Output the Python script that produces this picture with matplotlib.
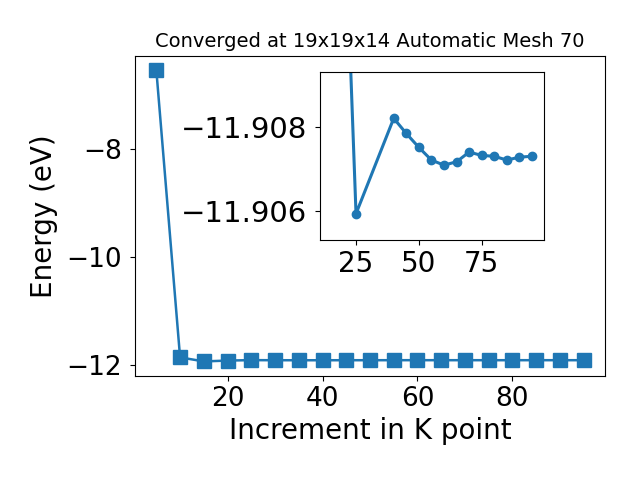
import numpy as np
import matplotlib
matplotlib.use("Agg")
import matplotlib.pyplot as plt

# data
kpoints = [5, 10, 15, 20, 25, 30, 35, 40, 45, 50, 55, 60, 65, 70, 75, 80, 85, 90, 95]
energy = [-6.54, -11.855, -11.93, -11.914, -11.90594, -11.9080, -11.9081, -11.90820,
          -11.90784, -11.90751, -11.90721, -11.90709, -11.90717, -11.90740, -11.90732,
          -11.90730, -11.90721, -11.90728, -11.90730]

# zoomed data shown in the inset
inset_k = [20, 25, 40, 45, 50, 55, 60, 65, 70, 75, 80, 85, 90, 95]
inset_e = [-11.914, -11.90594, -11.90820, -11.90784, -11.90751, -11.90721, -11.90709,
           -11.90717, -11.90740, -11.90732, -11.90730, -11.90721, -11.90728, -11.90730]

fig = plt.figure(figsize=(6.4, 4.8), dpi=100)
ax = fig.add_axes([0.2109, 0.2167, 0.7344, 0.6673])
ax.plot(kpoints, energy, marker="s", markersize=10, color="#1f77b4", linewidth=1.8)
ax.set_title("Converged at 19x19x14 Automatic Mesh 70", fontsize=14)
ax.set_xlabel("Increment in K point", fontsize=20)
ax.set_ylabel("Energy (eV)", fontsize=20, labelpad=6)
ax.set_xticks([20, 40, 60, 80])
ax.set_yticks([-8, -10, -12])
ax.tick_params(labelsize=19)
ax.tick_params(axis="y", pad=6)

axin = fig.add_axes([0.5005, 0.4994, 0.35, 0.35])
axin.plot(inset_k, inset_e, marker="o", markersize=6, color="#1f77b4", linewidth=2.2)
axin.set_xlim(10.8, 99.9)
axin.set_ylim(-11.90531, -11.90929)
axin.set_xticks([25, 50, 75])
axin.set_yticks([-11.908, -11.906])
axin.ticklabel_format(axis="y", useOffset=False)
axin.tick_params(axis="x", labelsize=20)
axin.tick_params(axis="y", labelsize=21, pad=6)

fig.savefig("out.png", dpi=100)
